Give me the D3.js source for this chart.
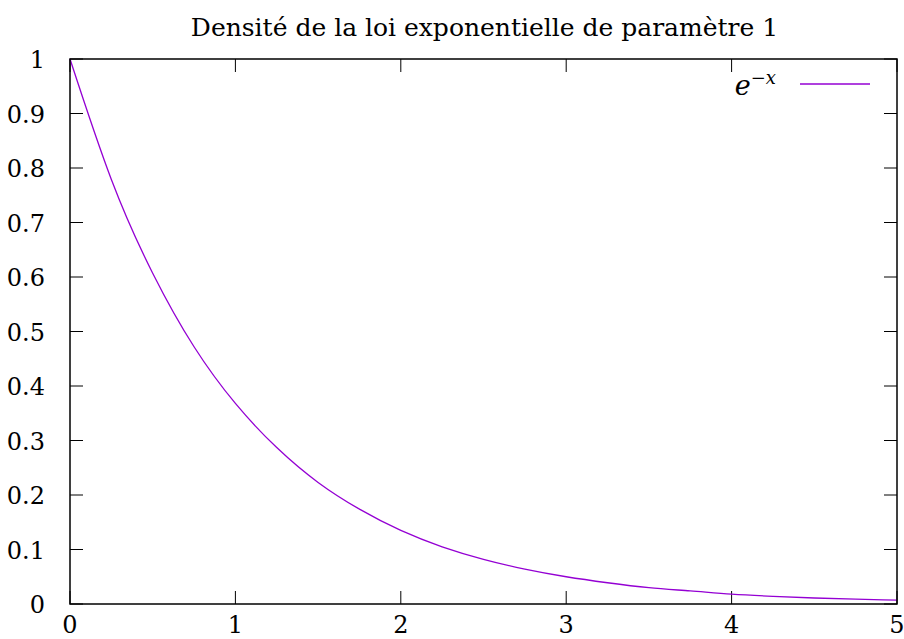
<!DOCTYPE html>
<html><head><meta charset="utf-8">
<script src="https://cdn.jsdelivr.net/npm/d3@7"></script>
<style>body{margin:0;background:#fff}svg{display:block}</style>
</head><body>
<script>
const title = "Densité de la loi exponentielle de paramètre 1";
const xValues = [0,0.25,0.5,0.75,1,1.25,1.5,1.75,2,2.25,2.5,2.75,3,3.25,3.5,3.75,4,4.25,4.5,4.75,5];
const yValues = [1,0.779,0.607,0.472,0.368,0.287,0.223,0.174,0.135,0.105,0.082,0.064,0.050,0.039,0.030,0.024,0.018,0.014,0.011,0.009,0.007];
const xTicks = [0,1,2,3,4,5];
const yTicks = [0,0.1,0.2,0.3,0.4,0.5,0.6,0.7,0.8,0.9,1];

const W=904,H=639;
const L=70,R=897,T=59,B=604;
const svg=d3.select("body").append("svg").attr("width",W).attr("height",H);
const x=d3.scaleLinear().domain([0,5]).range([L,R]);
const y=d3.scaleLinear().domain([0,1]).range([B,T]);
const tickFont='DejaVu Serif, serif';
const tl=13;
const g=svg.append("g");
xTicks.forEach(v=>{
  g.append("line").attr("x1",x(v)).attr("x2",x(v)).attr("y1",B).attr("y2",B-tl).attr("stroke","#000");
  g.append("line").attr("x1",x(v)).attr("x2",x(v)).attr("y1",T).attr("y2",T+tl).attr("stroke","#000");
  g.append("text").attr("x",x(v)).attr("y",633).attr("text-anchor","middle")
   .attr("font-family",tickFont).attr("font-size",24).text(v);
});
yTicks.forEach(v=>{
  g.append("line").attr("x1",L).attr("x2",L+tl).attr("y1",y(v)).attr("y2",y(v)).attr("stroke","#000");
  g.append("line").attr("x1",R).attr("x2",R-tl).attr("y1",y(v)).attr("y2",y(v)).attr("stroke","#000");
  g.append("text").attr("x",45).attr("y",y(v)+9).attr("text-anchor","end")
   .attr("font-family",tickFont).attr("font-size",24).text(v);
});
const data=xValues.map((d,i)=>[d,yValues[i]]);
svg.append("path").datum(data)
  .attr("d",d3.line().x(d=>x(d[0])).y(d=>y(d[1])).curve(d3.curveNatural))
  .attr("fill","none").attr("stroke","#9400d3").attr("stroke-width",1.3);
svg.append("rect").attr("x",L).attr("y",T).attr("width",R-L).attr("height",B-T)
  .attr("fill","none").attr("stroke","#000").attr("stroke-width",1.5);
svg.append("text").attr("x",(L+R)/2+1).attr("y",36).attr("text-anchor","middle")
  .attr("font-family",'DejaVu Serif, serif').attr("font-size",25).text(title);
const lt=svg.append("text").attr("x",776).attr("y",95).attr("text-anchor","end")
  .attr("font-family",tickFont).attr("font-style","italic").attr("font-size",27);
lt.append("tspan").text("e");
lt.append("tspan").attr("dy",-11).attr("font-size",18).text("−x");
svg.append("line").attr("x1",800).attr("x2",870).attr("y1",84).attr("y2",84)
  .attr("stroke","#9400d3").attr("stroke-width",1.3);
</script>
</body></html>
